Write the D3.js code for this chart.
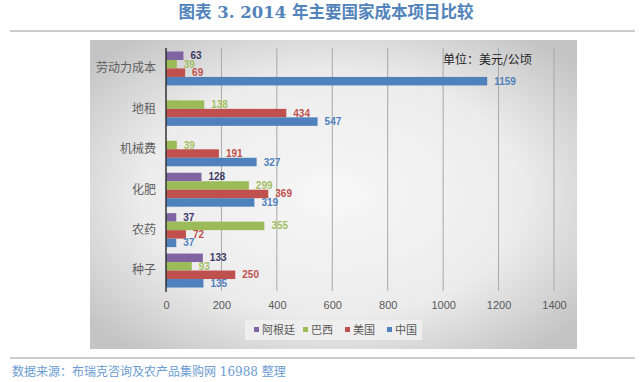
<!DOCTYPE html>
<html><head><meta charset="utf-8">
<script src="https://cdn.jsdelivr.net/npm/d3@7"></script>
<style>body{margin:0;background:#fff;}svg{display:block;}</style>
</head><body>
<svg id="c" width="640" height="382"></svg>
<script>
const categories = ["劳动力成本", "地租", "机械费", "化肥", "农药", "种子"];
const seriesNames = ["阿根廷", "巴西", "美国", "中国"];
const argentina = [63, null, null, 128, 37, 133];
const brazil = [39, 138, 39, 299, 355, 93];
const usa = [69, 434, 191, 369, 72, 250];
const china = [1159, 547, 327, 319, 37, 135];
const xTicks = [0, 200, 400, 600, 800, 1000, 1200, 1400];
const titleText = "图表 3. 2014 年主要国家成本项目比较";
const unitText = "单位：美元/公顷";
const sourceText = "数据来源：布瑞克咨询及农产品集购网 16988 整理";

const seriesValues = [argentina, brazil, usa, china];
const barColors = ["#8064a2", "#9bbb59", "#c0504d", "#4f81bd"];
const labelColors = ["#3d3a66", "#a3bf63", "#c0504d", "#4f81bd"];

const svg = d3.select("#c");
const defs = svg.append("defs");
const rg = defs.append("radialGradient").attr("id","bg").attr("cx","50%").attr("cy","50%").attr("r","65%");
rg.append("stop").attr("offset","0%").attr("stop-color","#f7f7f7");
rg.append("stop").attr("offset","60%").attr("stop-color","#ececec");
rg.append("stop").attr("offset","100%").attr("stop-color","#c4c4c4");

// title
svg.append("text").attr("x", 326).attr("y", 18).attr("text-anchor","middle")
  .attr("font-family","'DejaVu Serif', 'Noto Sans CJK SC', serif").attr("font-weight","bold")
  .attr("font-size", 16.5).attr("fill","#5283bb").text(titleText);
svg.append("line").attr("x1",10).attr("x2",635).attr("y1",31).attr("y2",31).attr("stroke","#9a9a9a").attr("stroke-width",1);

// panel
svg.append("rect").attr("x",90).attr("y",40).attr("width",487).attr("height",309).attr("fill","url(#bg)");

const x = d3.scaleLinear().domain([0,1400]).range([166, 554]);
const y = d3.scaleBand().domain(categories).range([48, 291]).paddingInner(0.16).paddingOuter(0.086);
const ys = d3.scaleBand().domain(seriesNames).range([0, y.bandwidth()]);

// gridlines
svg.append("g").selectAll("line").data(xTicks.slice(1)).join("line")
  .attr("x1", d=>x(d)).attr("x2", d=>x(d)).attr("y1",48).attr("y2",291)
  .attr("stroke","#a8a8a8").attr("stroke-width",1);

// x axis labels
const xa = svg.append("g").attr("transform","translate(0,291)")
  .call(d3.axisBottom(x).tickValues(xTicks).tickSize(0).tickPadding(10).tickFormat(d3.format("d")));
xa.select(".domain").remove();
xa.selectAll("text").attr("font-family","'Liberation Sans', Arial, sans-serif").attr("font-size",11).attr("fill","#595959");

// bars
categories.forEach((cat, ci) => {
  seriesNames.forEach((s, si) => {
    const v = seriesValues[si][ci];
    if (v == null) return;
    const yy = y(cat) + ys(s);
    svg.append("rect").attr("x", x(0)).attr("y", yy).attr("width", x(v)-x(0)).attr("height", ys.bandwidth())
      .attr("fill", barColors[si]);
    svg.append("text").attr("x", x(v)+7).attr("y", yy + ys.bandwidth()/2 + 3.5)
      .attr("font-family","'Liberation Sans', Arial, sans-serif").attr("font-size",10).attr("font-weight","bold")
      .attr("fill", labelColors[si]).text(v);
  });
});

// category axis
const ya = svg.append("g").attr("transform","translate(166,0)")
  .call(d3.axisLeft(y).tickSize(0).tickPadding(10));
ya.select(".domain").attr("stroke","#333").attr("stroke-width",1.5).attr("d","M0,48V292");
ya.selectAll("text").attr("font-family","'Noto Sans CJK SC', sans-serif").attr("font-size",12).attr("fill","#606060");

// unit
svg.append("text").attr("x", 443).attr("y", 64).attr("font-family","'Noto Sans CJK SC', sans-serif")
  .attr("font-size",12).attr("fill","#222").text(unitText);

// legend
const lg = svg.append("g");
lg.append("rect").attr("x",245).attr("y",320).attr("width",177).attr("height",20).attr("fill","#eeeeee");
const legX = [254, 303, 345, 387];
seriesNames.forEach((s,i)=>{
  lg.append("rect").attr("x",legX[i]).attr("y",327).attr("width",5).attr("height",5).attr("fill",barColors[i]);
  lg.append("text").attr("x",legX[i]+8).attr("y",334).attr("font-family","'Noto Sans CJK SC', sans-serif")
    .attr("font-size",11).attr("fill","#595959").text(s);
});

// bottom line & source
svg.append("line").attr("x1",10).attr("x2",635).attr("y1",358).attr("y2",358).attr("stroke","#9a9a9a").attr("stroke-width",1);
svg.append("text").attr("x",12).attr("y",376).attr("font-family","'DejaVu Serif', 'Noto Sans CJK SC', serif")
  .attr("font-size",12).attr("fill","#6b9bd1").text(sourceText);
</script>
</body></html>
